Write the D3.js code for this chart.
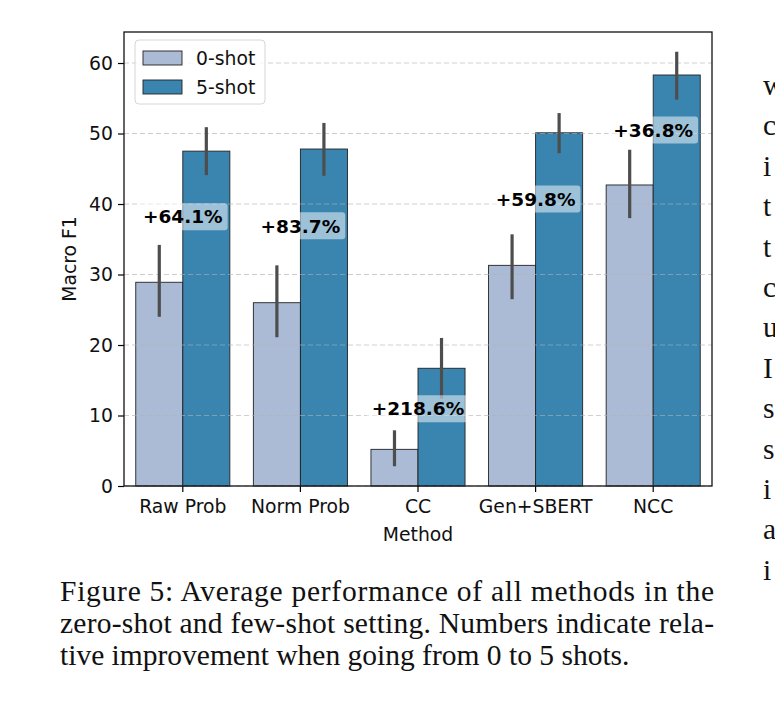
<!DOCTYPE html>
<html>
<head>
<meta charset="utf-8">
<script src="https://cdn.jsdelivr.net/npm/d3@7"></script>
<style>
  body { margin: 0; background: #fff; }
  svg text { font-family: "DejaVu Sans", sans-serif; }
</style>
</head>
<body>
<svg id="chart" width="775" height="712"></svg>
<script>
// data
var methods = ["Raw Prob", "Norm Prob", "CC", "Gen+SBERT", "NCC"];
var shots = ["0-shot", "5-shot"];
var zeroShot = [28.9, 26.0, 5.2, 31.3, 42.7];
var zeroLow = [24.0, 21.1, 2.8, 26.5, 38.0];
var zeroHigh = [34.2, 31.3, 7.9, 35.7, 47.7];
var fiveShot = [47.5, 47.8, 16.7, 50.1, 58.3];
var fiveLow = [44.1, 44.0, 12.4, 47.2, 54.8];
var fiveHigh = [50.9, 51.5, 21.0, 52.9, 61.6];
var gains = ["+64.1%", "+83.7%", "+218.6%", "+59.8%", "+36.8%"];
var yTicks = [0, 10, 20, 30, 40, 50, 60];
var colors = ["#abbbd5", "#3a85b0"];

var captionLines = [
  "Figure 5: Average performance of all methods in the",
  "zero-shot and few-shot setting. Numbers indicate rela-",
  "tive improvement when going from 0 to 5 shots."
];
var sideLetters = ["w", "c", "i", "t", "t", "c", "u", "I", "s", "s", "i", "a", "i"];

var bars = [];
methods.forEach(function(m, i) {
  bars.push({method: m, shot: shots[0], value: zeroShot[i], lo: zeroLow[i], hi: zeroHigh[i]});
  bars.push({method: m, shot: shots[1], value: fiveShot[i], lo: fiveLow[i], hi: fiveHigh[i]});
});

var svg = d3.select("#chart"),
    margin = {top: 32, right: 63, bottom: 226, left: 124},
    width = +svg.attr("width") - margin.left - margin.right,
    height = +svg.attr("height") - margin.top - margin.bottom;

var x = d3.scaleBand().domain(methods).range([0, width]).padding(0);
var xs = d3.scaleBand().domain(shots).range([x.bandwidth() * 0.1, x.bandwidth() * 0.9]).padding(0);
var y = d3.scaleLinear().domain([0, 64.4]).range([height, 0]);

var g = svg.append("g")
    .attr("transform", "translate(" + margin.left + "," + margin.top + ")");

// bars
g.selectAll(".bar")
    .data(bars)
    .enter().append("rect")
    .attr("class", "bar")
    .attr("x", function(d) { return x(d.method) + xs(d.shot); })
    .attr("y", function(d) { return y(d.value); })
    .attr("width", xs.bandwidth())
    .attr("height", function(d) { return height - y(d.value); })
    .attr("fill", function(d) { return colors[shots.indexOf(d.shot)]; })
    .attr("stroke", "#222")
    .attr("stroke-width", 0.9);

// grid on top of bars
g.selectAll(".grid")
    .data(yTicks)
    .enter().append("line")
    .attr("x1", 0).attr("x2", width)
    .attr("y1", function(d) { return y(d); })
    .attr("y2", function(d) { return y(d); })
    .attr("stroke", "#b0b0b0")
    .attr("stroke-opacity", 0.6)
    .attr("stroke-width", 1)
    .attr("stroke-dasharray", "5,3");

// error bars
g.selectAll(".err")
    .data(bars)
    .enter().append("line")
    .attr("x1", function(d) { return x(d.method) + xs(d.shot) + xs.bandwidth() / 2; })
    .attr("x2", function(d) { return x(d.method) + xs(d.shot) + xs.bandwidth() / 2; })
    .attr("y1", function(d) { return y(d.lo); })
    .attr("y2", function(d) { return y(d.hi); })
    .attr("stroke", "#4d4d4d")
    .attr("stroke-width", 3.2);

// gain labels at the midpoint of the two bars
var labels = g.selectAll(".gain")
    .data(methods)
    .enter().append("g")
    .attr("transform", function(d, i) {
      return "translate(" + (x(d) + x.bandwidth() / 2) + "," + y((zeroShot[i] + fiveShot[i]) / 2) + ")";
    });

labels.append("text")
    .attr("text-anchor", "middle")
    .attr("dy", "0.36em")
    .attr("font-size", 18.5)
    .attr("font-weight", "bold")
    .text(function(d, i) { return gains[i]; })
    .each(function() {
      var b = this.getBBox();
      d3.select(this.parentNode).insert("rect", "text")
          .attr("x", b.x - 5).attr("y", -13.5)
          .attr("width", b.width + 10).attr("height", 27)
          .attr("rx", 3)
          .attr("fill", "#fff").attr("fill-opacity", 0.5);
    });

// axes
var yAxis = g.append("g")
    .call(d3.axisLeft(y).tickValues(yTicks).tickSize(6).tickPadding(5));
var xAxis = g.append("g")
    .attr("transform", "translate(0," + height + ")")
    .call(d3.axisBottom(x).tickSize(6).tickPadding(8));

[yAxis, xAxis].forEach(function(a) {
  a.select(".domain").remove();
  a.selectAll("line").attr("stroke", "#000").attr("stroke-width", 1.2);
  a.selectAll("text").attr("font-size", 18.8).attr("fill", "#111")
      .style("font-family", "DejaVu Sans, sans-serif");
});

// frame
g.append("rect")
    .attr("width", width).attr("height", height)
    .attr("fill", "none").attr("stroke", "#111").attr("stroke-width", 1.3);

g.append("text")
    .attr("x", width / 2).attr("y", height + 55)
    .attr("text-anchor", "middle").attr("font-size", 18.8).attr("fill", "#111")
    .text("Method");

g.append("text")
    .attr("transform", "translate(-48," + height / 2 + ") rotate(-90)")
    .attr("text-anchor", "middle").attr("font-size", 18.8).attr("fill", "#111")
    .text("Macro F1");

// legend
var legend = g.append("g").attr("transform", "translate(11,8)");
legend.append("rect")
    .attr("width", 130).attr("height", 64).attr("rx", 4)
    .attr("fill", "#fff").attr("fill-opacity", 0.8)
    .attr("stroke", "#d6d6d6");
shots.forEach(function(s, i) {
  legend.append("rect")
      .attr("x", 8).attr("y", 11 + i * 29)
      .attr("width", 39).attr("height", 14)
      .attr("fill", colors[i]).attr("stroke", "#222").attr("stroke-width", 0.9);
  legend.append("text")
      .attr("x", 61).attr("y", 18 + i * 29).attr("dy", "0.36em")
      .attr("font-size", 18.8).attr("fill", "#111")
      .text(s);
});

// caption below the figure
var cap = svg.append("g");
captionLines.forEach(function(t, i) {
  var txt = cap.append("text")
      .attr("x", 60).attr("y", 601 + i * 32)
      .attr("font-size", 29.5)
      .style("font-family", "Liberation Serif, serif")
      .attr("fill", "#111")
      .text(t);
  if (i < 2) txt.attr("textLength", 654).attr("lengthAdjust", "spacing");
});

// clipped text of the neighbouring column
svg.append("g").selectAll("text")
    .data(sideLetters)
    .enter().append("text")
    .attr("x", 763)
    .attr("y", function(d, i) { return 95 + i * 40.4; })
    .attr("font-size", 29.5)
    .style("font-family", "Liberation Serif, serif")
    .attr("fill", "#111")
    .text(function(d) { return d; });
</script>
</body>
</html>
